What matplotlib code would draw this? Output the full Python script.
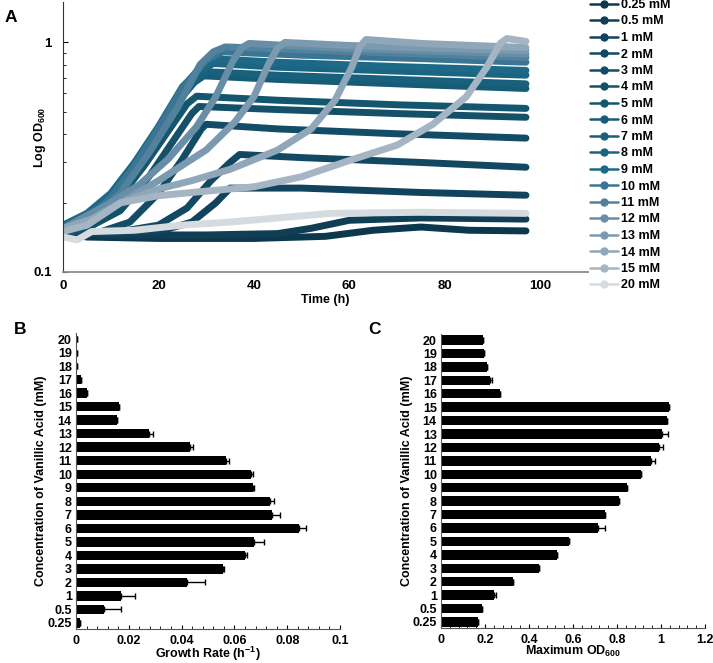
import numpy as np
import matplotlib
matplotlib.use("Agg")
import matplotlib.pyplot as plt
from matplotlib.ticker import NullFormatter, MultipleLocator

plt.rcParams["font.family"] = ["Liberation Sans", "DejaVu Sans"]
plt.rcParams["font.weight"] = "bold"
plt.rcParams["axes.labelweight"] = "bold"
plt.rcParams["mathtext.fontset"] = "custom"
plt.rcParams["mathtext.rm"] = "Liberation Sans:bold"
plt.rcParams["mathtext.default"] = "rm"

# ---- panel A: growth curves (time h, OD600) ----
curve_labels = ["0.25 mM", "0.5 mM", "1 mM", "2 mM", "3 mM", "4 mM", "5 mM", "6 mM",
                "7 mM", "8 mM", "9 mM", "10 mM", "11 mM", "12 mM", "13 mM", "14 mM",
                "15 mM", "20 mM"]
curve_colors = ["#0c384d", "#0f3e55", "#11435c", "#124861", "#134c66", "#145169",
                "#15566f", "#175b75", "#18607b", "#1a6581", "#1c6a87", "#3a7693",
                "#52819d", "#688ea7", "#7b9ab0", "#8fa7b9", "#a5b5c3", "#d6dbdf"]

t_025 = [0, 5, 20, 40, 55, 65, 75, 85, 97]
od_025 = [0.15, 0.142, 0.14, 0.14, 0.143, 0.152, 0.157, 0.152, 0.151]
t_05 = [0, 10, 30, 45, 52, 60, 75, 97]
od_05 = [0.15, 0.145, 0.145, 0.147, 0.155, 0.168, 0.172, 0.17]
t_1 = [0, 10, 20, 27, 32, 35, 50, 75, 97]
od_1 = [0.15, 0.148, 0.15, 0.165, 0.2, 0.232, 0.232, 0.222, 0.216]
t_2 = [0, 12, 20, 26, 31, 35, 37, 50, 75, 97]
od_2 = [0.15, 0.15, 0.16, 0.19, 0.25, 0.3, 0.325, 0.315, 0.3, 0.286]
t_3 = [0, 8, 14, 20, 25, 29, 30, 45, 70, 97]
od_3 = [0.15, 0.15, 0.165, 0.22, 0.31, 0.42, 0.44, 0.42, 0.4, 0.383]
t_4 = [0, 5, 12, 18, 23, 27, 28.5, 45, 70, 97]
od_4 = [0.15, 0.155, 0.185, 0.26, 0.37, 0.49, 0.526, 0.51, 0.49, 0.472]
t_5 = [0, 5, 11, 17, 22, 26, 28, 45, 70, 97]
od_5 = [0.15, 0.16, 0.2, 0.29, 0.41, 0.54, 0.583, 0.56, 0.535, 0.516]
t_6 = [0, 5, 10, 15, 20, 25, 27.5, 29.5, 45, 70, 97]
od_6 = [0.155, 0.165, 0.205, 0.28, 0.4, 0.58, 0.67, 0.715, 0.69, 0.66, 0.63]
t_7 = [0, 5, 10, 15, 20, 25, 28, 30.5, 45, 70, 97]
od_7 = [0.155, 0.165, 0.205, 0.28, 0.4, 0.59, 0.69, 0.745, 0.72, 0.69, 0.66]
t_8 = [0, 5, 10, 15, 20, 25, 28.5, 31.5, 45, 70, 97]
od_8 = [0.155, 0.17, 0.21, 0.29, 0.42, 0.62, 0.74, 0.81, 0.78, 0.75, 0.72]
t_9 = [0, 5, 10, 15, 20, 25, 29, 32.5, 45, 70, 97]
od_9 = [0.16, 0.18, 0.22, 0.3, 0.43, 0.64, 0.78, 0.847, 0.82, 0.785, 0.755]
t_10 = [0, 5, 10, 15, 20, 25, 30, 33.5, 50, 75, 97]
od_10 = [0.155, 0.17, 0.21, 0.29, 0.42, 0.63, 0.84, 0.91, 0.88, 0.85, 0.82]
t_11 = [0, 6, 12, 18, 24, 28.7, 31.5, 34, 50, 75, 97]
od_11 = [0.155, 0.17, 0.22, 0.33, 0.52, 0.8, 0.91, 0.956, 0.93, 0.89, 0.86]
t_12 = [0, 10, 16, 22, 28, 32, 35.6, 37.5, 39, 55, 75, 97]
od_12 = [0.155, 0.2, 0.24, 0.31, 0.43, 0.58, 0.83, 0.95, 0.99, 0.95, 0.92, 0.89]
t_13 = [0, 5, 12, 20, 30, 36, 40, 43, 45, 46.5, 60, 80, 97]
od_13 = [0.155, 0.16, 0.2, 0.25, 0.34, 0.45, 0.58, 0.8, 0.95, 1.0, 0.97, 0.94, 0.92]
t_14 = [0, 6, 12, 20, 27, 35, 45, 52, 57, 60.5, 62.2, 63.5, 75, 97]
od_14 = [0.155, 0.17, 0.2, 0.23, 0.25, 0.28, 0.34, 0.42, 0.56, 0.78, 0.96, 1.03, 0.99, 0.95]
t_15 = [0, 5, 12, 20, 30, 40, 50, 60, 70, 77.5, 84.5, 88.8, 91.6, 93, 97]
od_15 = [0.15, 0.16, 0.2, 0.215, 0.225, 0.235, 0.26, 0.306, 0.357, 0.44, 0.58, 0.78,
         0.99, 1.04, 1.01]
t_20 = [0, 3, 6, 15, 25, 35, 45, 56, 75, 97]
od_20 = [0.142, 0.138, 0.15, 0.152, 0.16, 0.165, 0.172, 0.18, 0.182, 0.18]

curve_times = [t_025, t_05, t_1, t_2, t_3, t_4, t_5, t_6, t_7, t_8, t_9, t_10, t_11,
               t_12, t_13, t_14, t_15, t_20]
curve_ods = [od_025, od_05, od_1, od_2, od_3, od_4, od_5, od_6, od_7, od_8, od_9, od_10,
             od_11, od_12, od_13, od_14, od_15, od_20]

# ---- panels B and C ----
conc_labels = ["0.25", "0.5", "1", "2", "3", "4", "5", "6", "7", "8", "9", "10", "11",
               "12", "13", "14", "15", "16", "17", "18", "19", "20"]
growth_rate = [0.0015, 0.0106, 0.0169, 0.0419, 0.0558, 0.0639, 0.0674, 0.0845, 0.0744,
               0.0735, 0.0672, 0.0663, 0.0568, 0.0432, 0.0275, 0.0157, 0.0163, 0.0042,
               0.0018, 0.0002, 0.0002, 0.0002]
growth_err = [0, 0.0064, 0.0054, 0.0071, 0.0002, 0.0008, 0.0038, 0.0027, 0.0027, 0.0015,
              0.0002, 0.0009, 0.0013, 0.001, 0.0018, 0, 0, 0, 0, 0, 0, 0]
max_od = [0.170, 0.188, 0.242, 0.326, 0.444, 0.526, 0.583, 0.715, 0.745, 0.811, 0.847,
          0.911, 0.956, 0.989, 1.003, 1.026, 1.036, 0.270, 0.221, 0.211, 0.197, 0.192]
max_od_err = [0, 0, 0.009, 0, 0, 0, 0, 0.029, 0, 0, 0, 0, 0.017, 0.021, 0.027, 0, 0, 0,
              0.011, 0, 0, 0]

W, H = 713, 663
fig = plt.figure(figsize=(W / 100, H / 100), dpi=100)


def frac(x0, y0, x1, y1):
    return [x0 / W, 1 - y1 / H, (x1 - x0) / W, (y1 - y0) / H]


# ---------------- A ----------------
ax = fig.add_axes(frac(63, 2, 588, 272))
for t, od, col, lab in zip(curve_times, curve_ods, curve_colors, curve_labels):
    ax.plot(t, od, color=col, lw=5, solid_capstyle="round", solid_joinstyle="round",
            marker="o", ms=2, label=lab)
ax.set_yscale("log")
ax.set_ylim(0.1, 1.5)
ax.set_xlim(0, 110)
ax.set_yticks([0.1, 1])
ax.set_yticklabels(["0.1", "1"])
ax.yaxis.set_minor_formatter(NullFormatter())
ax.set_xticks([0, 20, 40, 60, 80, 100])
ax.tick_params(axis="y", which="both", direction="in", labelsize=9.5, pad=8)
ax.tick_params(axis="x", length=0, labelsize=9.5, pad=6)
ax.spines["top"].set_visible(False)
ax.spines["right"].set_visible(False)
ax.spines["left"].set_color("#333333")
ax.spines["bottom"].set_color("#8c8c8c")
ax.spines["bottom"].set_linewidth(1.3)
ax.set_xlabel("Time (h)", fontsize=9, labelpad=1)
ax.set_ylabel("Log OD$_{600}$", fontsize=9)
ax.yaxis.set_label_coords(-0.029, 0.5)

handles, labels = ax.get_legend_handles_labels()
leg = fig.legend(handles, labels, loc="upper left", bbox_to_anchor=(590 / W, 1 + 1 / H),
                 frameon=False, fontsize=9, handlelength=2.2, handletextpad=0.3,
                 labelspacing=0.36, borderpad=0, borderaxespad=0)
for h in leg.legend_handles:
    h.set_linewidth(1.8)
    h.set_markersize(5)
fig.text(5 / W, 1 - 18 / H, "A", fontsize=12.5, fontweight="bold", va="center")

# ---------------- B and C ----------------
ypos = np.arange(len(conc_labels))


def bar_panel(box, vals, errs, xmax, xminor, xlabel, tag, tagpos, labx):
    bx = fig.add_axes(frac(*box))
    bx.barh(ypos, vals, height=0.7, color="black")
    bx.errorbar(vals, ypos, xerr=[np.zeros(len(errs)), errs], fmt="none",
                ecolor="black", elinewidth=1, capsize=2.5, capthick=1)
    bx.set_ylim(-0.45, len(conc_labels) - 0.55)
    bx.set_xlim(0, xmax)
    bx.set_yticks(ypos)
    bx.set_yticklabels(conc_labels)
    bx.xaxis.set_minor_locator(MultipleLocator(xminor))
    bx.tick_params(axis="y", length=0, labelsize=9, pad=3)
    bx.tick_params(axis="x", which="major", direction="in", length=3, labelsize=9, pad=4)
    bx.tick_params(axis="x", which="minor", direction="in", length=2)
    bx.spines["top"].set_visible(False)
    bx.spines["right"].set_visible(False)
    bx.spines["left"].set_color("#555555")
    bx.spines["bottom"].set_color("#555555")
    bx.set_xlabel(xlabel, fontsize=9, labelpad=-1)
    bx.set_ylabel("Concentration of Vanillic Acid (mM)", fontsize=9)
    bx.yaxis.set_label_coords(labx, 0.5)
    fig.text(tagpos[0] / W, 1 - tagpos[1] / H, tag, fontsize=12.5, fontweight="bold",
             va="center")
    return bx


bxB = bar_panel((76, 333, 340, 629), growth_rate, growth_err, 0.1, 0.004,
                "Growth Rate (h$^{-1}$)", "B", (14, 330), -0.11)
bxB.set_xticks([0, 0.02, 0.04, 0.06, 0.08, 0.1])
bxB.set_xticklabels(["0", "0.02", "0.04", "0.06", "0.08", "0.1"])

bxC = bar_panel((441, 334, 705, 628), max_od, max_od_err, 1.2, 0.04,
                "Maximum OD$_{600}$", "C", (368, 330), -0.106)
bxC.set_xticks([0, 0.2, 0.4, 0.6, 0.8, 1.0, 1.2])
bxC.set_xticklabels(["0", "0.2", "0.4", "0.6", "0.8", "1", "1.2"])

fig.savefig("out.png", dpi=100)
